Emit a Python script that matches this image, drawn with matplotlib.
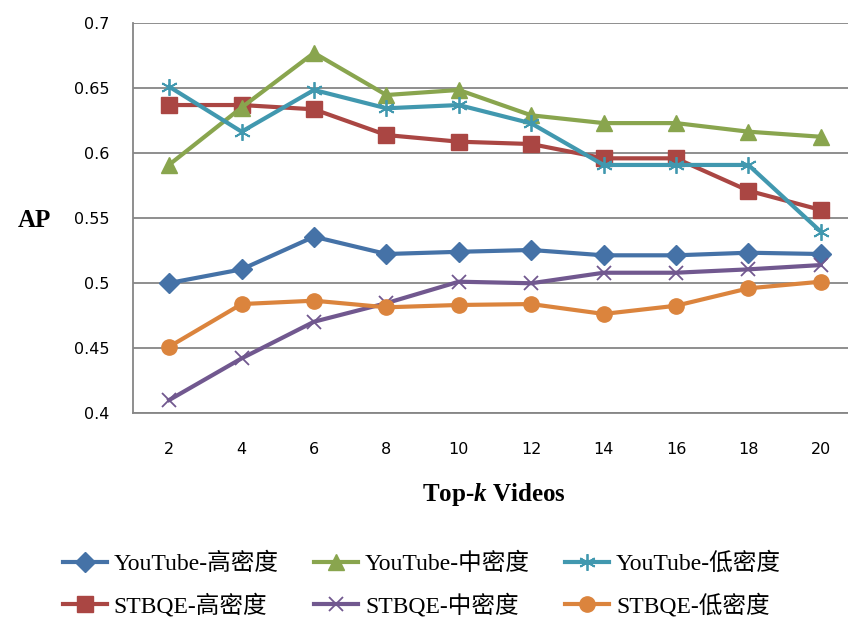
import matplotlib
matplotlib.use("Agg")
import matplotlib.pyplot as plt

plt.rcParams["mathtext.fontset"] = "custom"
plt.rcParams["mathtext.it"] = "Liberation Serif:italic:bold"

# data
topk = [2, 4, 6, 8, 10, 12, 14, 16, 18, 20]
yt_high = [0.500, 0.5105, 0.5356, 0.5223, 0.524, 0.5254, 0.5213, 0.5213, 0.5233, 0.5223]
yt_mid = [0.591, 0.635, 0.677, 0.6446, 0.6485, 0.629, 0.623, 0.623, 0.6164, 0.6125]
yt_low = [0.651, 0.6164, 0.6485, 0.6344, 0.6369, 0.6228, 0.5908, 0.5908, 0.5908, 0.5395]
st_high = [0.6369, 0.6369, 0.6336, 0.6138, 0.6087, 0.6069, 0.5959, 0.5959, 0.571, 0.5562]
st_mid = [0.410, 0.442, 0.4702, 0.4845, 0.501, 0.4998, 0.5079, 0.5079, 0.5105, 0.5138]
st_low = [0.451, 0.4838, 0.4864, 0.4813, 0.4831, 0.4838, 0.4762, 0.4825, 0.4959, 0.501]
labels = ["YouTube-高密度", "YouTube-中密度", "YouTube-低密度",
          "STBQE-高密度", "STBQE-中密度", "STBQE-低密度"]

fig = plt.figure(figsize=(8.48, 6.19), dpi=100)
ax = fig.add_axes([133/848, 1 - 413/619, 724/848, 390/619])

x = list(range(len(topk)))
# plotted in column order so the legend reads row by row
ax.plot(x, yt_high, color="#4572A7", lw=3, marker="D", ms=10, label=labels[0])
ax.plot(x, st_high, color="#AA4643", lw=3, marker="s", ms=11, label=labels[3])
ax.plot(x, yt_mid, color="#89A54E", lw=3, marker="^", ms=12, label=labels[1])
ax.plot(x, st_mid, color="#71588F", lw=3, marker="x", ms=10, mew=1.3, label=labels[4])
ax.plot(x, yt_low, color="#4198AF", lw=3, marker=(6, 2, 0), ms=12, mew=1.3, label=labels[2])
ax.plot(x, st_low, color="#DB843D", lw=3, marker="o", ms=11, label=labels[5])

ax.set_xlim(-0.5, len(topk) - 0.5)
ax.set_ylim(0.4, 0.7)
ax.set_yticks([0.4, 0.45, 0.5, 0.55, 0.6, 0.65, 0.7])
ax.set_yticklabels(["0.4", "0.45", "0.5", "0.55", "0.6", "0.65", "0.7"])
ax.set_xticks(x)
ax.set_xticklabels([str(k) for k in topk])
ax.tick_params(axis="both", length=0, labelsize=11.5)
ax.tick_params(axis="y", pad=17)
ax.tick_params(axis="x", pad=21)
ax.grid(axis="y", color="#868686", lw=1.3)
ax.set_axisbelow(True)
for s in ["top", "right"]:
    ax.spines[s].set_visible(False)
for s in ["left", "bottom"]:
    ax.spines[s].set_color("#868686")
    ax.spines[s].set_linewidth(1.3)

fig.text(34/848, 1 - 220/619, "AP", family="Liberation Serif", weight="bold",
         fontsize=18, ha="center", va="center")
fig.text(494/848, 1 - 495/619, "Top-$\\mathit{k}$ Videos", family="Liberation Serif",
         weight="bold", fontsize=18, ha="center", va="center")

h, l = ax.get_legend_handles_labels()
leg = fig.legend(h, l, ncol=3, frameon=False,
                 loc="center", bbox_to_anchor=(422/848, 1 - 585/619),
                 prop={"family": ["Liberation Serif", "Noto Sans CJK SC"], "size": 17},
                 handlelength=1.85, handletextpad=0.3, columnspacing=1.5, labelspacing=0.8)

fig.savefig("out.png", dpi=100)
